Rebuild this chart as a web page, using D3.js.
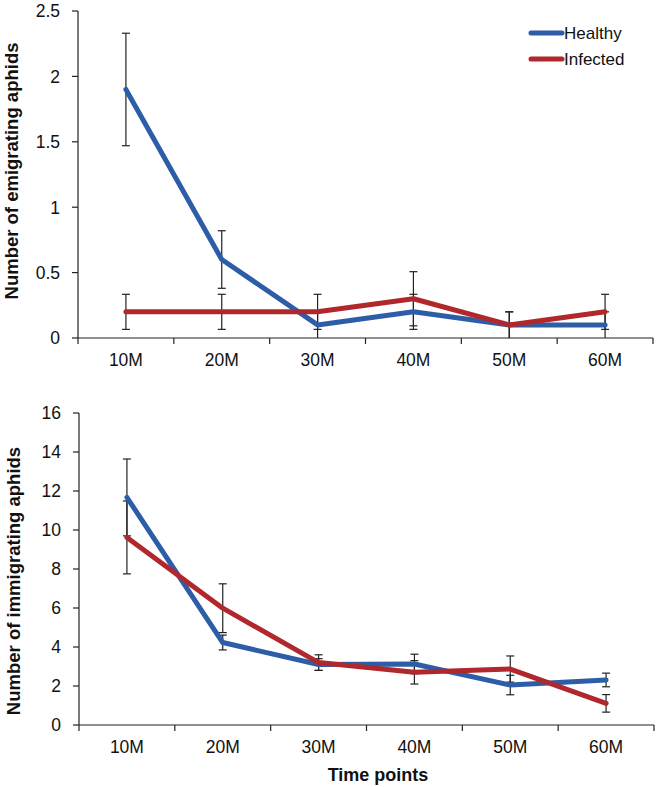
<!DOCTYPE html>
<html><head><meta charset="utf-8">
<script src="https://cdn.jsdelivr.net/npm/d3@7"></script>
<style>body{margin:0;background:#fff}svg{display:block}text{font-family:Arial,"Liberation Sans",sans-serif}</style>
</head><body>
<svg id="c" width="656" height="787"></svg>
<script>
const categories = ["10M","20M","30M","40M","50M","60M"];
const seriesNames = ["Healthy","Infected"];
// Emigrating (top panel)
const emigHealthy = [1.9, 0.6, 0.1, 0.2, 0.1, 0.1];
const emigHealthyErr = [0.43, 0.22, 0.1, 0.134, 0.1, 0.1];
const emigInfected = [0.2, 0.2, 0.2, 0.3, 0.1, 0.2];
const emigInfectedErr = [0.134, 0.134, 0.134, 0.207, 0.1, 0.134];
const emigTicks = [0, 0.5, 1, 1.5, 2, 2.5];
// Immigrating (bottom panel)
const immHealthy = [11.67, 4.23, 3.1, 3.13, 2.05, 2.31];
const immHealthyErr = [1.97, 0.38, 0.3, 0.5, 0.5, 0.35];
const immInfected = [9.62, 5.99, 3.2, 2.7, 2.87, 1.11];
const immInfectedErr = [1.87, 1.25, 0.4, 0.6, 0.67, 0.45];
const immTicks = [0, 2, 4, 6, 8, 10, 12, 14, 16];

const colors = {Healthy:"#2e5da8", Infected:"#b0282b"};
const svg = d3.select("#c");

function panel(cfg){
  const g = svg.append("g");
  const x = d3.scaleBand().domain(categories).range([cfg.x0, cfg.x1]);
  const y = d3.scaleLinear().domain([0, cfg.max]).range([cfg.yb, cfg.yt]);
  // y axis
  g.append("line").attr("x1",cfg.x0).attr("x2",cfg.x0).attr("y1",cfg.yt).attr("y2",cfg.yb).attr("stroke","#222").attr("stroke-width",1.2);
  cfg.ticks.forEach(t=>{
    g.append("line").attr("x1",cfg.x0-6).attr("x2",cfg.x0).attr("y1",y(t)).attr("y2",y(t)).attr("stroke","#222").attr("stroke-width",1.2);
    g.append("text").attr("x",cfg.x0-18).attr("y",y(t)).attr("dy","0.36em").attr("text-anchor","end")
      .attr("font-size",17.5).attr("fill","#111").text(t);
  });
  // x axis
  g.append("line").attr("x1",cfg.x0).attr("x2",cfg.x1).attr("y1",cfg.yb).attr("y2",cfg.yb).attr("stroke","#222").attr("stroke-width",1.2);
  const edges = categories.map(c=>x(c)).concat([cfg.x1]);
  edges.forEach(e=>{
    g.append("line").attr("x1",e).attr("x2",e).attr("y1",cfg.yb).attr("y2",cfg.yb+6).attr("stroke","#222").attr("stroke-width",1.2);
  });
  categories.forEach(c=>{
    g.append("text").attr("x",x(c)+x.bandwidth()/2).attr("y",cfg.yb+22).attr("dy","0.36em").attr("text-anchor","middle")
      .attr("font-size",17.5).attr("fill","#111").text(c);
  });
  // y label
  g.append("text").attr("transform",`translate(${cfg.lx},${cfg.ly}) rotate(-90)`).attr("text-anchor","middle")
    .attr("dy","0.36em").attr("font-size",18.5).attr("font-weight","bold").attr("fill","#111").text(cfg.label);
  const cx = c=>x(c)+x.bandwidth()/2;
  const line = d3.line().x((d,i)=>cx(categories[i])).y(d=>y(d));
  // error bars
  const errs = [[cfg.h,cfg.he],[cfg.i,cfg.ie]];
  errs.forEach(([vals,err])=>{
    vals.forEach((v,i)=>{
      const xc = cx(categories[i]);
      const lo = Math.max(0, v-err[i]), hi = v+err[i];
      g.append("line").attr("x1",xc).attr("x2",xc).attr("y1",y(lo)).attr("y2",y(hi)).attr("stroke","#222").attr("stroke-width",1.2);
      [lo,hi].forEach(b=>{
        if(b>0) g.append("line").attr("x1",xc-4).attr("x2",xc+4).attr("y1",y(b)).attr("y2",y(b)).attr("stroke","#222").attr("stroke-width",1.2);
      });
    });
  });
  // lines
  g.append("path").datum(cfg.h).attr("d",line).attr("fill","none").attr("stroke",colors.Healthy).attr("stroke-width",5).attr("stroke-linejoin","round").attr("stroke-linecap","round");
  g.append("path").datum(cfg.i).attr("d",line).attr("fill","none").attr("stroke",colors.Infected).attr("stroke-width",5).attr("stroke-linejoin","round").attr("stroke-linecap","round");
  return {x,y};
}

panel({x0:78,x1:653,yt:11,yb:338,max:2.5,ticks:emigTicks,lx:11,ly:171,label:"Number of emigrating aphids",
  h:emigHealthy,he:emigHealthyErr,i:emigInfected,ie:emigInfectedErr});
panel({x0:79,x1:654,yt:413,yb:725,max:16,ticks:immTicks,lx:13,ly:581,label:"Number of immigrating aphids",
  h:immHealthy,he:immHealthyErr,i:immInfected,ie:immInfectedErr});

// x title
svg.append("text").attr("x",378).attr("y",775).attr("dy","0.36em").attr("text-anchor","middle")
  .attr("font-size",18).attr("font-weight","bold").attr("fill","#111").text("Time points");

// legend
const leg = svg.append("g");
seriesNames.forEach((s,i)=>{
  const yy = 33 + i*26;
  leg.append("line").attr("x1",531).attr("x2",562).attr("y1",yy).attr("y2",yy).attr("stroke",colors[s]).attr("stroke-width",5).attr("stroke-linecap","round");
  leg.append("text").attr("x",564).attr("y",yy).attr("dy","0.36em").attr("font-size",17).attr("fill","#111").text(s);
});
</script>
</body></html>
